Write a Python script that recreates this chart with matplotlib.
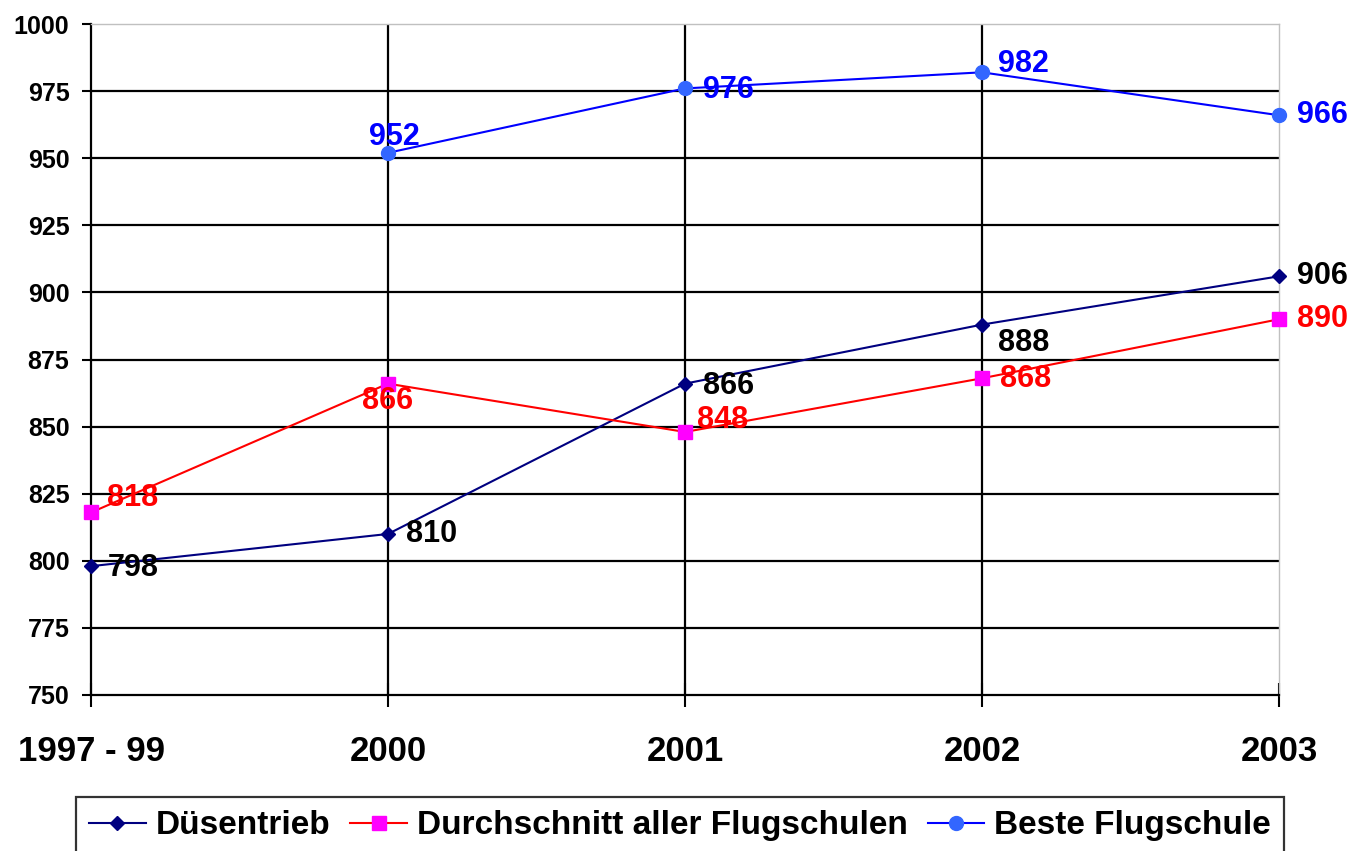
import matplotlib
matplotlib.use("Agg")
import matplotlib.pyplot as plt
import numpy as np

plt.rcParams['font.family'] = ['Liberation Sans', 'DejaVu Sans']
plt.rcParams['font.weight'] = 'bold'

categories = ['1997 - 99', '2000', '2001', '2002', '2003']
duesentrieb = [798, 810, 866, 888, 906]
durchschnitt = [818, 866, 848, 868, 890]
beste = [np.nan, 952, 976, 982, 966]
yticks = [750, 775, 800, 825, 850, 875, 900, 925, 950, 975, 1000]

# label offsets in pixels (dx, dy, ha)
off_dues = [(17, -2, 'left'), (18, 0, 'left'), (18, -2, 'left'), (16, -18, 'left'), (18, 0, 'left')]
off_durch = [(16, 14, 'left'), (0, -17, 'center'), (12, 12, 'left'), (18, -1, 'left'), (18, 0, 'left')]
off_beste = [None, (6, 16, 'center'), (18, -2, 'left'), (16, 8, 'left'), (18, 0, 'left')]

W, H = 1364, 851
fig = plt.figure(figsize=(W / 100, H / 100), dpi=100)
ax = fig.add_axes([91 / W, 1 - 695 / H, (1279 - 91) / W, (695 - 24) / H])

x = np.arange(len(categories))

# grid (black), plot border top/right light grey
for yv in yticks[1:-1]:
    ax.axhline(yv, color='black', lw=1.6, zorder=1)
for xv in x[1:-1]:
    ax.axvline(xv, color='black', lw=1.6, zorder=1)

ax.plot(x, duesentrieb, color='#000080', lw=1.5, marker='D', ms=7.5,
        mfc='#000080', mec='#000080', label='Düsentrieb', zorder=3, clip_on=False)
ax.plot(x, durchschnitt, color='#FF0000', lw=1.5, marker='s', ms=10,
        mfc='#FF00FF', mec='#FF00FF', label='Durchschnitt aller Flugschulen', zorder=3, clip_on=False)
ax.plot(x, beste, color='#0000FF', lw=1.5, marker='o', ms=10,
        mfc='#3366FF', mec='#3366FF', label='Beste Flugschule', zorder=3, clip_on=False)

def put_labels(vals, offs, color):
    for xi, v, o in zip(x, vals, offs):
        if o is None or np.isnan(v):
            continue
        dx, dy, ha = o
        ax.annotate(f'{int(v)}', (xi, v), xytext=(dx, dy), textcoords='offset pixels',
                    ha=ha, va='center', fontsize=22, fontweight='bold', color=color,
                    zorder=4, annotation_clip=False)

put_labels(duesentrieb, off_dues, 'black')
put_labels(durchschnitt, off_durch, '#FF0000')
put_labels(beste, off_beste, '#0000FF')

ax.set_xlim(0, len(categories) - 1)
ax.set_ylim(750, 1000)
ax.set_yticks(yticks)
ax.set_xticks(x)
ax.set_xticklabels(categories)

ax.tick_params(axis='y', direction='out', length=6.5, width=1.5, pad=9, labelsize=18)
ax.tick_params(axis='x', direction='inout', length=17, width=1.5, pad=20, labelsize=25)

for s in ['left', 'bottom']:
    ax.spines[s].set_color('black')
    ax.spines[s].set_linewidth(1.6)
for s in ['top', 'right']:
    ax.spines[s].set_color('#C0C0C0')
    ax.spines[s].set_linewidth(1.0)

leg = fig.legend(loc='upper center', bbox_to_anchor=(680 / W, 1 - 797 / H), ncol=3,
                 fontsize=24, frameon=True, fancybox=False, edgecolor='black',
                 handlelength=1.7, handletextpad=0.3, columnspacing=0.6,
                 borderpad=0.4, borderaxespad=0)
leg.get_frame().set_linewidth(1.6)
for t in leg.get_texts():
    t.set_fontweight('bold')

fig.savefig('out.png', dpi=100, facecolor='white')
